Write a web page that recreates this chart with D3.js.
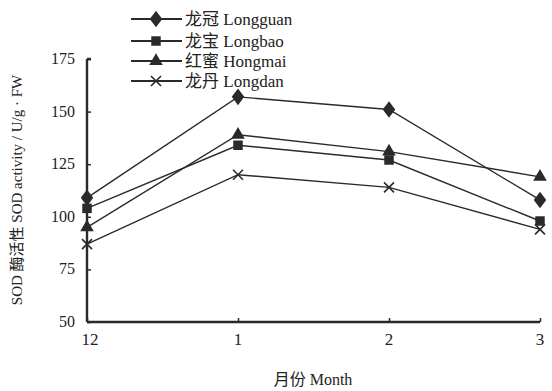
<!DOCTYPE html>
<html lang="zh">
<head>
<meta charset="UTF-8">
<script src="https://cdn.jsdelivr.net/npm/d3@7"></script>
<style>
  body { margin: 0; background: #fff; }
  text { font-family: "Liberation Serif", "Noto Sans CJK SC", serif; fill: #222; }
</style>
</head>
<body>
<div id="chart"></div>
<script>
// data
var months = ['12', '1', '2', '3'];
var seriesNames = ['龙冠 Longguan', '龙宝 Longbao', '红蜜 Hongmai', '龙丹 Longdan'];
var longguan = [109, 157, 151, 108];
var longbao = [104, 134, 127, 98];
var hongmai = [95, 139, 131, 119];
var longdan = [87, 120, 114, 94];
var yTicks = [50, 75, 100, 125, 150, 175];

var series = [
  { name: seriesNames[0], values: longguan, marker: 'diamond' },
  { name: seriesNames[1], values: longbao, marker: 'square' },
  { name: seriesNames[2], values: hongmai, marker: 'triangle' },
  { name: seriesNames[3], values: longdan, marker: 'cross' }
];

var width = 552, height = 391;
var margin = { left: 87, right: 12, top: 59, bottom: 69 };

var svg = d3.select('#chart').append('svg')
  .attr('width', width).attr('height', height);

var x = d3.scalePoint().domain(months).range([margin.left, width - margin.right]);
var y = d3.scaleLinear().domain([50, 175]).range([height - margin.bottom, margin.top]);

var ink = '#2a2a2a';

// axes
var yAxis = svg.append('g').attr('transform', 'translate(' + margin.left + ',0)')
  .call(d3.axisRight(y).tickValues(yTicks).tickSize(4).tickFormat(''));
yAxis.select('.domain').attr('d', 'M0,' + y(175) + 'H4M0,' + y(175) + 'V' + y(50));
var xAxis = svg.append('g').attr('transform', 'translate(0,' + y(50) + ')')
  .call(d3.axisTop(x).tickSize(4).tickFormat('').tickSizeOuter(0));
xAxis.select('.domain').attr('d', 'M' + margin.left + ',0H' + x('3'));
svg.selectAll('.domain').attr('stroke', ink).attr('stroke-width', 2.4);
svg.selectAll('.tick line').attr('stroke', ink).attr('stroke-width', 1.5);

svg.selectAll('.ylab').data(yTicks).enter().append('text')
  .attr('x', margin.left - 12).attr('y', function(d) { return y(d) + 5; })
  .attr('text-anchor', 'end').style('font-size', '16px')
  .text(function(d) { return d; });

svg.selectAll('.xlab').data(months).enter().append('text')
  .attr('x', function(d, i) { return x(d) + (i == 0 ? 3 : 0); })
  .attr('y', y(50) + 23).attr('text-anchor', 'middle').style('font-size', '17px')
  .text(function(d) { return d; });

svg.append('text').attr('x', 313).attr('y', 385).attr('text-anchor', 'middle')
  .style('font-size', '16px').text('月份 Month');

svg.append('text').attr('transform', 'translate(22,190) rotate(-90)')
  .attr('text-anchor', 'middle').style('font-size', '15px')
  .text('SOD 酶活性 SOD activity / U/g · FW');

function drawMarker(g, type, cx, cy) {
  if (type == 'diamond') {
    g.append('path').attr('d', d3.symbol(d3.symbolDiamond, 80)()).attr('transform', 'translate(' + cx + ',' + cy + ') scale(1.3,1)').attr('fill', ink);
  } else if (type == 'square') {
    g.append('path').attr('d', d3.symbol(d3.symbolSquare, 90)()).attr('transform', 'translate(' + cx + ',' + cy + ')').attr('fill', ink);
  } else if (type == 'triangle') {
    g.append('path').attr('d', d3.symbol(d3.symbolTriangle, 80)()).attr('transform', 'translate(' + cx + ',' + cy + ')').attr('fill', ink);
  } else {
    g.append('path').attr('d', 'M-5,-5L5,5M-5,5L5,-5').attr('transform', 'translate(' + cx + ',' + cy + ')')
      .attr('stroke', ink).attr('stroke-width', 1.6).attr('fill', 'none');
  }
}

var line = d3.line().x(function(d, i) { return x(months[i]); }).y(function(d) { return y(d); });

series.forEach(function(s) {
  var g = svg.append('g');
  g.append('path').datum(s.values).attr('d', line)
    .attr('fill', 'none').attr('stroke', ink).attr('stroke-width', 1.4);
  s.values.forEach(function(v, i) { drawMarker(g, s.marker, x(months[i]), y(v)); });
});

// legend
var legendY = [19, 41, 61, 81];
series.forEach(function(s, i) {
  var g = svg.append('g');
  g.append('line').attr('x1', 131).attr('x2', 182).attr('y1', legendY[i]).attr('y2', legendY[i])
    .attr('stroke', ink).attr('stroke-width', 1.8);
  drawMarker(g, s.marker, 156, legendY[i]);
  g.append('text').attr('x', 185).attr('y', legendY[i] + 6).style('font-size', '17px').text(s.name);
});
</script>
</body>
</html>
